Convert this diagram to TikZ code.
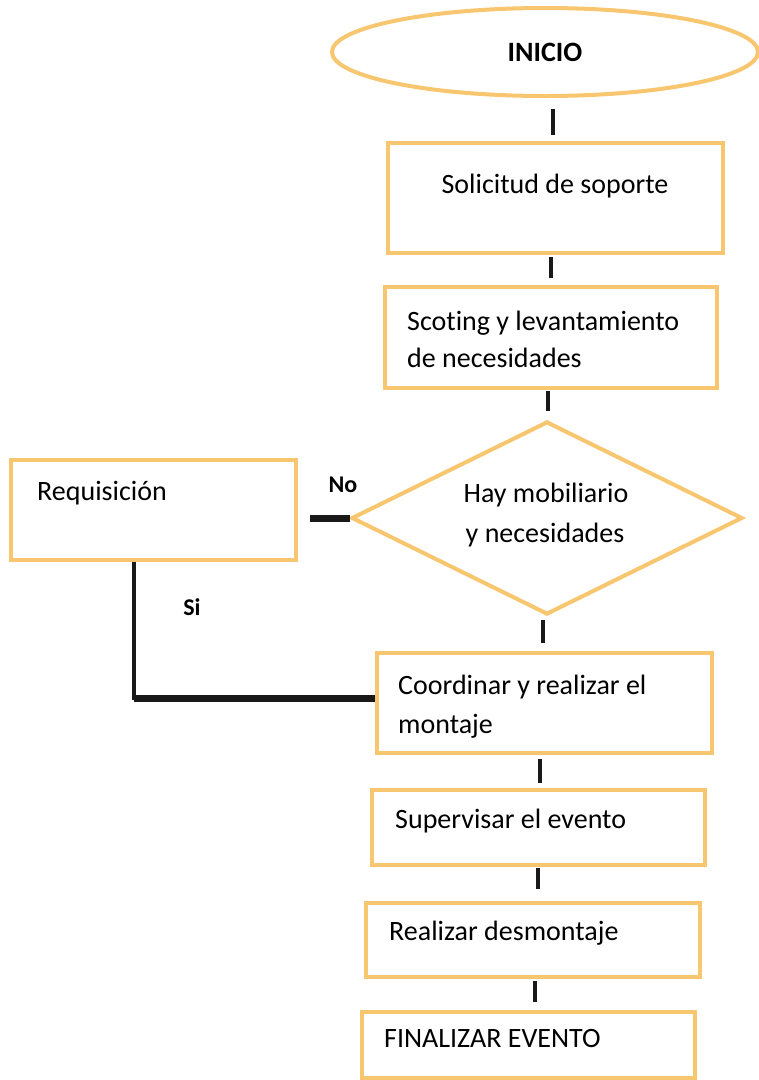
\documentclass[tikz,border=0pt]{standalone}
\usepackage{fontspec}
\setmainfont[Ligatures=NoCommon]{Carlito}
\usetikzlibrary{shapes.geometric}
\definecolor{boxorange}{RGB}{249,198,112}
\tikzset{
  x=1pt, y=-1pt,
  box/.style={draw=boxorange, line width=4pt, fill=white, rectangle, inner sep=0pt},
  txt/.style={inner sep=0pt, font=\fontsize{28}{34}\selectfont},
  lbl/.style={inner sep=0pt, font=\fontsize{24}{28}\selectfont\bfseries},
  conn/.style={draw=black!90, line width=4pt},
  thickconn/.style={draw=black!90, line width=7pt}
}
\begin{document}
\begin{tikzpicture}
\useasboundingbox[fill=white] (0,0) rectangle (759,1080);
% shapes
\node[ellipse, draw=boxorange, line width=4pt, fill=white, minimum width=426pt, minimum height=88pt, inner sep=0pt, font=\fontsize{28}{34}\selectfont\bfseries] (e) at (545,52) {INICIO};
\node[box, minimum width=335pt, minimum height=110pt] (b1) at (555.5,198) {};
\node[box, minimum width=332pt, minimum height=101pt] (b2) at (551,337.5) {};
\node[diamond, draw=boxorange, line width=4pt, fill=white, inner sep=0pt, aspect=2.03, minimum width=391pt, minimum height=193pt] (d) at (547,518) {};
\node[box, minimum width=285pt, minimum height=100pt] (req) at (153,510) {};
\node[box, minimum width=335pt, minimum height=100pt] (b3) at (544.5,703) {};
\node[box, minimum width=333pt, minimum height=75pt] (b4) at (538.5,827.5) {};
\node[box, minimum width=334pt, minimum height=74pt] (b5) at (533,940) {};
\node[box, minimum width=333pt, minimum height=66pt] (b6) at (528.5,1045) {};
% texts
\node[txt, anchor=base] (t1) at (555,193) {Solicitud de soporte};
\node[txt, anchor=base west] (t2a) at (407,330) {Scoting y levantamiento};
\node[txt, anchor=base west] (t2b) at (407,367) {de necesidades};
\node[txt, anchor=base] (tda) at (546,502) {Hay mobiliario};
\node[txt, anchor=base] (tdb) at (545,542) {y necesidades};
\node[txt, anchor=base west] (treq) at (37,500) {Requisición};
\node[txt, anchor=base west] (t3a) at (398,694) {Coordinar y realizar el};
\node[txt, anchor=base west] (t3b) at (398,733) {montaje};
\node[txt, anchor=base west] (t4) at (395,828) {Supervisar el evento};
\node[txt, anchor=base west] (t5) at (389,940) {Realizar desmontaje};
\node[txt, anchor=base west] (t6) at (384,1047) {FINALIZAR EVENTO};
\node[lbl] (no) at (343,485) {No};
\node[lbl] (si) at (192,607) {Si};
% connectors
\coordinate (c1) at (553,0);
\draw[conn] (e.south -| c1) ++(0,11) -- ++(0,26);
\coordinate (c2) at (551,0);
\draw[conn, shorten <=2pt, shorten >=7pt] (b1.south -| c2) -- (b2.north -| c2);
\coordinate (c3) at (548,0);
\draw[conn, shorten <=1pt, shorten >=9pt] (b2.south -| c3) -- (d.north -| c3);
\coordinate (c4) at (543,0);
\draw[conn, shorten <=3pt, shorten >=8pt] (d.south -| c4) -- (b3.north -| c4);
\coordinate (c5) at (540,0);
\draw[conn, shorten <=4pt, shorten >=5pt] (b3.south -| c5) -- (b4.north -| c5);
\coordinate (c6) at (538,0);
\draw[conn, shorten <=1pt, shorten >=12pt] (b4.south -| c6) -- (b5.north -| c6);
\coordinate (c7) at (535,0);
\draw[conn, shorten <=2pt, shorten >=8pt] (b5.south -| c7) -- (b6.north -| c7);
% No branch
\coordinate (noend) at (310,516);
\draw[thickconn] (d.west) -- (d.west -| noend);
% Si branch
\coordinate (corner) at (134,698);
\draw[conn] (req.south -| corner) -- ([yshift=-2pt]corner);
\draw[thickconn] (corner) -- (corner -| b3.west);
\end{tikzpicture}
\end{document}
